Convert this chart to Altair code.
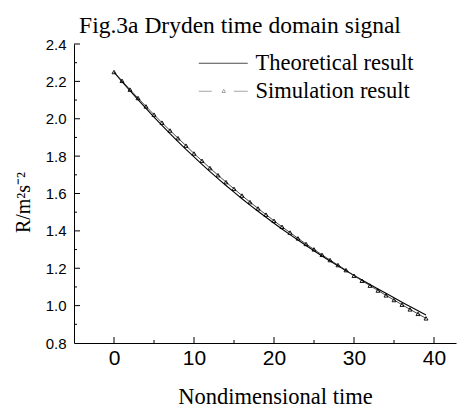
import altair as alt
import pandas as pd

t_vals = list(range(40))
theory = [2.250, 2.199, 2.150, 2.102, 2.055, 2.009, 1.964, 1.920, 1.878, 1.836,
          1.796, 1.756, 1.717, 1.680, 1.643, 1.607, 1.572, 1.538, 1.505, 1.473,
          1.441, 1.410, 1.380, 1.351, 1.322, 1.294, 1.266, 1.239, 1.213, 1.187,
          1.162, 1.137, 1.113, 1.089, 1.066, 1.042, 1.018, 0.995, 0.972, 0.950]
simul = [2.250, 2.203, 2.156, 2.111, 2.066, 2.022, 1.979, 1.937, 1.896, 1.856,
         1.814, 1.775, 1.736, 1.698, 1.661, 1.625, 1.589, 1.554, 1.520, 1.487,
         1.454, 1.422, 1.391, 1.360, 1.330, 1.301, 1.272, 1.244, 1.217, 1.190,
         1.160, 1.133, 1.107, 1.081, 1.055, 1.030, 1.005, 0.980, 0.956, 0.932]
series_names = ["Theoretical result", "Simulation result"]
x_major = [0, 10, 20, 30, 40]
x_minor = [5, 15, 25, 35]
y_major = [1.0, 1.2, 1.4, 1.6, 1.8, 2.0, 2.2, 2.4]
y_minor = [0.9, 1.1, 1.3, 1.5, 1.7, 1.9, 2.1, 2.3]
y_labels = [0.8] + y_major

df_t = pd.DataFrame({"t": t_vals, "v": theory})
df_s = pd.DataFrame({"t": t_vals, "v": simul})

xs = alt.Scale(domain=[-5, 42.75], nice=False, zero=False)
ys = alt.Scale(domain=[0.8, 2.4], nice=False, zero=False)

xaxis = alt.Axis(values=x_major, format="d", ticks=False, grid=False, domainColor="black",
                 labelFont="Liberation Sans", labelFontSize=21, labelColor="black", labelPadding=4,
                 labelOverlap=False,
                 title="Nondimensional time", titleFont="Liberation Serif", titleFontSize=22.5,
                 titleFontWeight="normal", titleColor="black", titlePadding=17, titleX=201)
yaxis = alt.Axis(values=y_labels, format=".1f", ticks=False, grid=False, domainColor="black",
                 labelFont="Liberation Sans", labelFontSize=15, labelColor="black", labelPadding=8,
                 labelOverlap=False, labelBound=False,
                 title="R/m²s⁻²", titleFont="Liberation Serif", titleFontSize=20, titleY=158,
                 titleFontWeight="normal", titleColor="black", titlePadding=12)

X = lambda f: alt.X(f, scale=xs, axis=xaxis)
Y = lambda f: alt.Y(f, scale=ys, axis=yaxis)

theory_line = alt.Chart(df_t).mark_line(color="black", strokeWidth=1.1).encode(
    x=X("t:Q"), y=Y("v:Q"))
sim_line = alt.Chart(df_s).mark_line(color="#333333", strokeWidth=0.9).encode(
    x=X("t:Q"), y=Y("v:Q"))
sim_pts = alt.Chart(df_s).mark_point(shape="triangle-up", size=16, filled=False,
                                     color="black", strokeWidth=0.9, opacity=1).encode(
    x=X("t:Q"), y=Y("v:Q"))

# inward ticks
xmaj = alt.Chart(pd.DataFrame({"t": x_major})).mark_rule(color="black", y2Offset=-6).encode(
    x=X("t:Q"), y=alt.datum(0.8, scale=ys, axis=yaxis), y2=alt.datum(0.8))
xmin = alt.Chart(pd.DataFrame({"t": x_minor})).mark_rule(color="black", y2Offset=-3).encode(
    x=X("t:Q"), y=alt.datum(0.8, scale=ys, axis=yaxis), y2=alt.datum(0.8))
ymaj = alt.Chart(pd.DataFrame({"v": y_major})).mark_rule(color="black", x2Offset=6).encode(
    y=Y("v:Q"), x=alt.datum(-5, scale=xs, axis=xaxis), x2=alt.datum(-5))
ymin = alt.Chart(pd.DataFrame({"v": y_minor})).mark_rule(color="black", x2Offset=3).encode(
    y=Y("v:Q"), x=alt.datum(-5, scale=xs, axis=xaxis), x2=alt.datum(-5))

leg_df = pd.DataFrame({"series": series_names})
legend_layer = alt.Chart(leg_df).transform_filter("false").mark_point(filled=False).encode(
    shape=alt.Shape("series:N", scale=alt.Scale(
        domain=series_names,
        range=["M-4.9,0H4.9",
               "M-4.9,0H-2.3M2.1,0H4.9M0.1,-0.4L0.45,0.25L-0.25,0.25Z"]),
        legend=alt.Legend(title=None, orient="none", legendX=138, legendY=8,
                          symbolSize=100, symbolStrokeWidth=1, labelFont="Liberation Serif",
                          labelFontSize=22.5, labelColor="black", labelOffset=21, rowPadding=5)),
    stroke=alt.Stroke("series:N", scale=alt.Scale(domain=series_names, range=["black", "#808080"]),
                      legend=None),
)

chart = alt.layer(theory_line, sim_line, sim_pts, xmaj, xmin, ymaj, ymin, legend_layer).properties(
    width=382, height=299, background="white",
    title=alt.TitleParams("Fig.3a Dryden time domain signal", font="Liberation Serif", fontSize=23.5,
                          fontWeight="normal", color="black", dx=-25, offset=0),
).configure_view(stroke=None)

chart.save("out.html", embed_options={"renderer": "svg", "actions": False})
